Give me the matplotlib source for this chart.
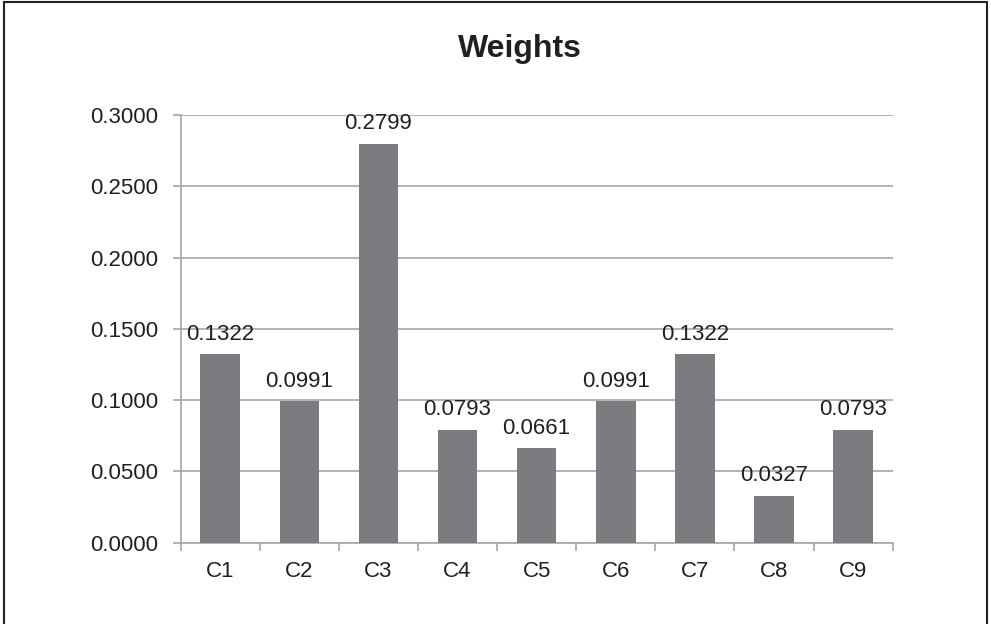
import matplotlib
matplotlib.use("Agg")
import matplotlib.pyplot as plt
from matplotlib.patches import Rectangle

plt.rcParams['font.family'] = ['Liberation Sans', 'DejaVu Sans']

categories = ["C1", "C2", "C3", "C4", "C5", "C6", "C7", "C8", "C9"]
weights = [0.1322, 0.0991, 0.2799, 0.0793, 0.0661, 0.0991, 0.1322, 0.0327, 0.0793]
y_ticks = [0.0, 0.05, 0.10, 0.15, 0.20, 0.25, 0.30]

text_color = "#231f20"
grid_color = "#a6a6a8"
bar_color = "#7b7c80"

fig = plt.figure(figsize=(9.91, 6.24), dpi=100)
ax = fig.add_axes([0.1823, 0.1303, 0.7185, 0.6854])

x = range(len(categories))
ax.bar(x, weights, width=0.5, color=bar_color, zorder=3)

ax.set_xlim(-0.5, len(categories) - 0.5)
ax.set_ylim(0, 0.30)
ax.set_yticks(y_ticks)
ax.set_yticklabels([f"{v:.4f}" for v in y_ticks])
ax.set_xticks(list(x))
ax.set_xticklabels(categories)
ax.set_xticks([i - 0.5 for i in range(len(categories) + 1)], minor=True)

ax.yaxis.grid(True, color=grid_color, linewidth=1.2, zorder=0)
for side in ("top", "right"):
    ax.spines[side].set_visible(False)
for side in ("left", "bottom"):
    ax.spines[side].set_color(grid_color)
    ax.spines[side].set_linewidth(1.2)

ax.tick_params(axis="y", length=6, width=1.2, color=grid_color, labelsize=16,
               labelcolor=text_color, pad=10)
ax.tick_params(axis="x", which="major", length=0, labelsize=16,
               labelcolor=text_color, pad=13)
ax.tick_params(axis="x", which="minor", length=6, width=1.2, color=grid_color)

for xi, v in zip(x, weights):
    ax.annotate(f"{v:.4f}", (xi, v), xytext=(0, 7), textcoords="offset points",
                ha="center", va="bottom", fontsize=16, color=text_color, zorder=4)

fig.text(0.525, 0.9087, "Weights", ha="center", va="baseline", fontsize=23,
         fontweight="bold", color=text_color)

fig.patches.append(Rectangle((0.004, -0.1), 0.992, 1.097, transform=fig.transFigure,
                             fill=False, edgecolor="#222222", linewidth=1.5))

fig.savefig("out.png", dpi=100)
